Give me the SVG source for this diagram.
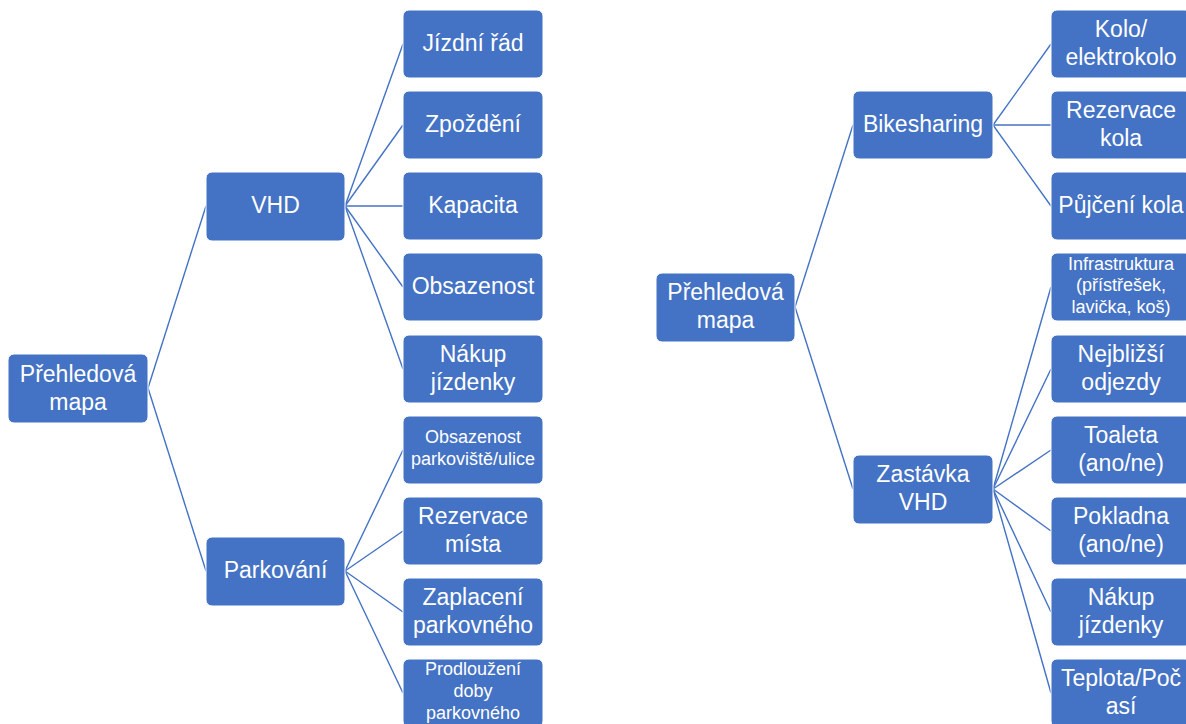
<svg xmlns="http://www.w3.org/2000/svg" width="1186" height="724" viewBox="0 0 1186 724">
<style>
rect{fill:#4472C4;stroke:#ffffff;stroke-width:1;}
text{fill:#ffffff;font-family:"Liberation Sans",Arial,sans-serif;font-size:23px;text-anchor:middle;}
text.s{font-size:18px;}
#connectors line{stroke:#4472C4;stroke-width:1.4;}
</style>
<rect x="0" y="0" width="1186" height="724" style="fill:#ffffff;stroke:none"/>
<g id="connectors">
<line x1="148" y1="388" x2="206" y2="206"/>
<line x1="148" y1="388" x2="206" y2="571"/>
<line x1="345" y1="206" x2="403" y2="44"/>
<line x1="345" y1="206" x2="403" y2="125"/>
<line x1="345" y1="206" x2="403" y2="206"/>
<line x1="345" y1="206" x2="403" y2="287"/>
<line x1="345" y1="206" x2="403" y2="369"/>
<line x1="345" y1="571" x2="403" y2="450"/>
<line x1="345" y1="571" x2="403" y2="531"/>
<line x1="345" y1="571" x2="403" y2="612"/>
<line x1="345" y1="571" x2="403" y2="693"/>
<line x1="795" y1="307" x2="853" y2="125"/>
<line x1="795" y1="307" x2="853" y2="489"/>
<line x1="993" y1="125" x2="1051" y2="44"/>
<line x1="993" y1="125" x2="1051" y2="125"/>
<line x1="993" y1="125" x2="1051" y2="206"/>
<line x1="993" y1="489" x2="1051" y2="287"/>
<line x1="993" y1="489" x2="1051" y2="369"/>
<line x1="993" y1="489" x2="1051" y2="450"/>
<line x1="993" y1="489" x2="1051" y2="531"/>
<line x1="993" y1="489" x2="1051" y2="612"/>
<line x1="993" y1="489" x2="1051" y2="693"/>
</g>
<g id="l-root"><rect x="8" y="354" width="140" height="69" rx="6"/><text x="78" y="382">Přehledová</text><text x="78" y="410">mapa</text></g>
<g id="l-vhd"><rect x="206" y="172" width="139" height="69" rx="6"/><text x="275.5" y="213">VHD</text></g>
<g id="l-park"><rect x="206" y="537" width="139" height="69" rx="6"/><text x="275.5" y="578">Parkování</text></g>
<g id="l-jr"><rect x="403" y="10" width="140" height="68" rx="6"/><text x="473" y="51">Jízdní řád</text></g>
<g id="l-zp"><rect x="403" y="91" width="140" height="68" rx="6"/><text x="473" y="132">Zpoždění</text></g>
<g id="l-kap"><rect x="403" y="172" width="140" height="68" rx="6"/><text x="473" y="213">Kapacita</text></g>
<g id="l-obs"><rect x="403" y="253" width="140" height="68" rx="6"/><text x="473" y="294">Obsazenost</text></g>
<g id="l-nak"><rect x="403" y="335" width="140" height="68" rx="6"/><text x="473" y="362">Nákup</text><text x="473" y="390">jízdenky</text></g>
<g id="l-obsp"><rect x="403" y="416" width="140" height="68" rx="6"/><text class="s" x="473" y="443">Obsazenost</text><text class="s" x="473" y="465">parkoviště/ulice</text></g>
<g id="l-rez"><rect x="403" y="497" width="140" height="68" rx="6"/><text x="473" y="524">Rezervace</text><text x="473" y="552">místa</text></g>
<g id="l-zap"><rect x="403" y="578" width="140" height="68" rx="6"/><text x="473" y="605">Zaplacení</text><text x="473" y="633">parkovného</text></g>
<g id="l-pro"><rect x="403" y="659" width="140" height="68" rx="6"/><text class="s" x="473" y="675">Prodloužení</text><text class="s" x="473" y="697">doby</text><text class="s" x="473" y="719">parkovného</text></g>
<g id="r-root"><rect x="656" y="273" width="139" height="69" rx="6"/><text x="725.5" y="300">Přehledová</text><text x="725.5" y="328">mapa</text></g>
<g id="r-bike"><rect x="853" y="91" width="140" height="68" rx="6"/><text x="923" y="132">Bikesharing</text></g>
<g id="r-zast"><rect x="853" y="455" width="140" height="69" rx="6"/><text x="923" y="482">Zastávka</text><text x="923" y="510">VHD</text></g>
<g id="r-kolo"><rect x="1051" y="10" width="140" height="68" rx="6"/><text x="1121" y="37">Kolo/</text><text x="1121" y="65">elektrokolo</text></g>
<g id="r-rez"><rect x="1051" y="91" width="140" height="68" rx="6"/><text x="1121" y="118">Rezervace</text><text x="1121" y="146">kola</text></g>
<g id="r-puj"><rect x="1051" y="172" width="140" height="68" rx="6"/><text x="1121" y="213">Půjčení kola</text></g>
<g id="r-inf"><rect x="1051" y="253" width="140" height="68" rx="6"/><text class="s" x="1121" y="270">Infrastruktura</text><text class="s" x="1121" y="291">(přístřešek,</text><text class="s" x="1121" y="313">lavička, koš)</text></g>
<g id="r-nej"><rect x="1051" y="335" width="140" height="68" rx="6"/><text x="1121" y="362">Nejbližší</text><text x="1121" y="390">odjezdy</text></g>
<g id="r-toa"><rect x="1051" y="416" width="140" height="68" rx="6"/><text x="1121" y="443">Toaleta</text><text x="1121" y="471">(ano/ne)</text></g>
<g id="r-pok"><rect x="1051" y="497" width="140" height="68" rx="6"/><text x="1121" y="524">Pokladna</text><text x="1121" y="552">(ano/ne)</text></g>
<g id="r-nak"><rect x="1051" y="578" width="140" height="68" rx="6"/><text x="1121" y="605">Nákup</text><text x="1121" y="633">jízdenky</text></g>
<g id="r-tep"><rect x="1051" y="659" width="140" height="68" rx="6"/><text x="1121" y="686">Teplota/Poč</text><text x="1121" y="714">así</text></g>
</svg>
